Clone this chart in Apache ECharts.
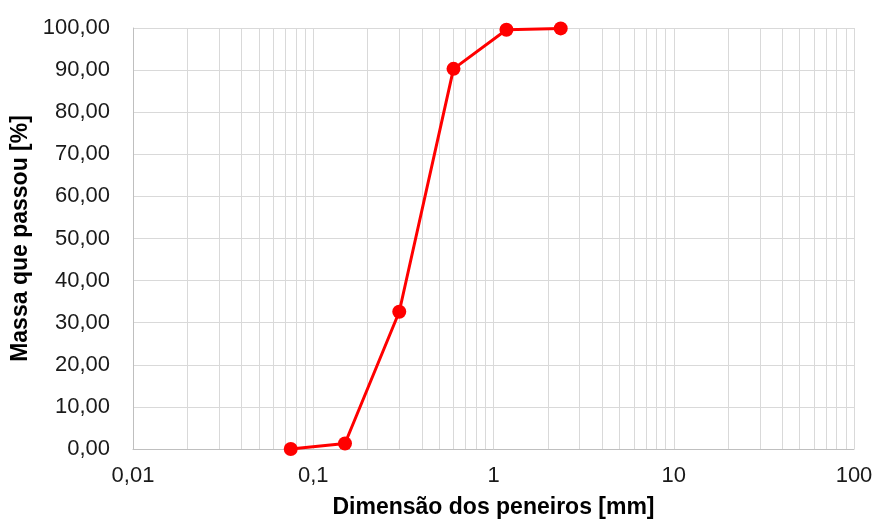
<!DOCTYPE html>
<html>
<head>
<meta charset="utf-8">
<script src="https://cdn.jsdelivr.net/npm/echarts@6/dist/echarts.min.js"></script>
<style>
  html, body { margin: 0; padding: 0; background: #fff; }
  #chart { width: 879px; height: 524px; }
</style>
</head>
<body>
<div id="chart"></div>
<script>
// Sieve openings (mm) and cumulative percentage passing
const sieveSizes = [0.075, 0.15, 0.3, 0.6, 1.18, 2.36];
const percentPassing = [0.0, 1.3, 32.6, 90.3, 99.6, 99.9];

// Intermediate log gridlines (2..9 within each decade)
const minorGrid = [];
[0.01, 0.1, 1, 10].forEach(function (d) {
  for (let k = 2; k <= 9; k++) minorGrid.push(+(d * k).toPrecision(6));
});

const FONT = '"Liberation Sans", Arial, sans-serif';
const GRID = '#d9d9d9';

const chart = echarts.init(document.getElementById('chart'), null, { renderer: 'canvas' });
chart.setOption({
  animation: false,
  backgroundColor: '#fff',
  grid: { left: 133, right: 25, top: 28, bottom: 75, containLabel: false },
  xAxis: {
    type: 'log',
    logBase: 10,
    min: 0.01,
    max: 100,
    name: 'Dimensão dos peneiros [mm]',
    nameLocation: 'middle',
    nameGap: 47,
    nameTextStyle: { fontFamily: FONT, fontSize: 23, fontWeight: 'bold', color: '#000' },
    axisLine: { show: true, lineStyle: { color: '#bfbfbf', width: 1 } },
    axisTick: { show: false },
    axisLabel: {
      margin: 16,
      fontFamily: FONT, fontSize: 22, color: '#1a1a1a',
      formatter: function (v) { return String(+(+v).toPrecision(6)).replace('.', ','); }
    },
    splitLine: { show: true, lineStyle: { color: GRID, width: 1 } }
  },
  yAxis: {
    type: 'value',
    min: 0,
    max: 100,
    interval: 10,
    name: 'Massa que passou [%]',
    nameLocation: 'middle',
    nameGap: 97,
    nameRotate: 90,
    nameTextStyle: { fontFamily: FONT, fontSize: 23, fontWeight: 'bold', color: '#000' },
    axisLine: { show: true, lineStyle: { color: '#bfbfbf', width: 1 } },
    axisTick: { show: false },
    axisLabel: {
      margin: 23,
      fontFamily: FONT, fontSize: 22, color: '#1a1a1a',
      formatter: function (v) { return v.toFixed(2).replace('.', ','); }
    },
    splitLine: { show: true, lineStyle: { color: GRID, width: 1 } }
  },
  series: [
    {
      type: 'line',
      data: sieveSizes.map(function (s, i) { return [s, percentPassing[i]]; }),
      symbol: 'circle',
      symbolSize: 14,
      lineStyle: { color: '#ff0000', width: 3 },
      itemStyle: { color: '#ff0000' },
      z: 5,
      markLine: {
        silent: true,
        symbol: ['none', 'none'],
        label: { show: false },
        lineStyle: { color: GRID, width: 1, type: 'solid' },
        data: minorGrid.map(function (x) { return { xAxis: x }; }),
        z: 1
      }
    }
  ]
});
</script>
</body>
</html>
